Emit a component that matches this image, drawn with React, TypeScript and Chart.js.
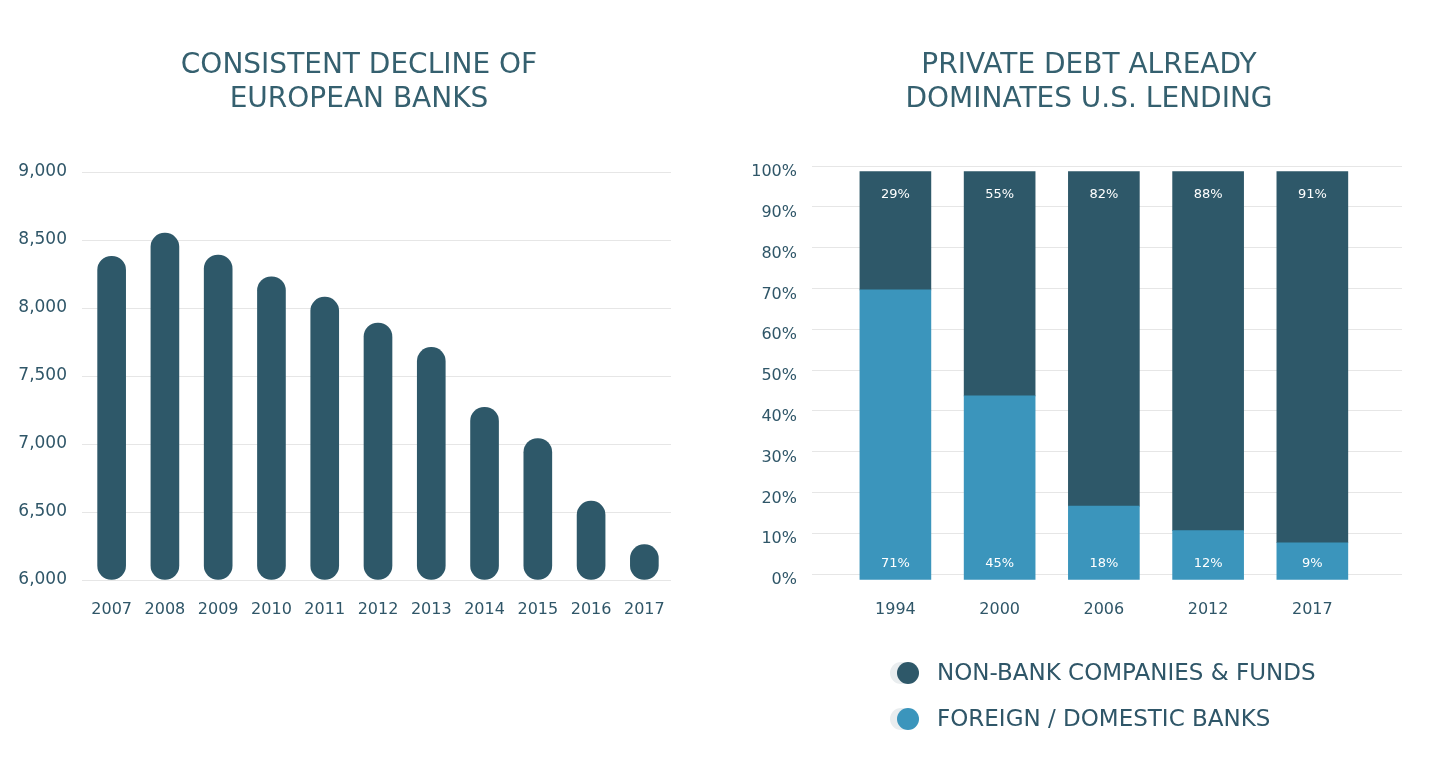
import React, { useEffect, useRef } from 'react';
import { Chart, registerables } from 'chart.js';

Chart.register(...registerables);

// ---------- data ----------
const bankYears = ['2007', '2008', '2009', '2010', '2011', '2012', '2013', '2014', '2015', '2016', '2017'];
const bankCounts = [8380, 8550, 8390, 8230, 8080, 7890, 7710, 7270, 7040, 6580, 6260];

const lendingYears = ['1994', '2000', '2006', '2012', '2017'];
const bankShare = [71, 45, 18, 12, 9];
const nonBankShare = [29, 55, 82, 88, 91];
const seriesNames = ['FOREIGN / DOMESTIC BANKS', 'NON-BANK COMPANIES & FUNDS'];

const leftTitle = ['CONSISTENT DECLINE OF', 'EUROPEAN BANKS'];
const rightTitle = ['PRIVATE DEBT ALREADY', 'DOMINATES U.S. LENDING'];

// ---------- style ----------
const FONT = "'DejaVu Sans', sans-serif";
const TEXT = '#2f5668';
const TITLE = '#35606f';
const DARK = '#2e5869';
const LIGHT = '#3b95bc';
const GRID = '#e6e6e6';
const GHOST = '#e9edef';

const valueLabelPlugin = {
  id: 'valueLabels',
  afterDatasetsDraw(chart: any) {
    const ctx = chart.ctx;
    ctx.save();
    ctx.font = `13px ${FONT}`;
    ctx.fillStyle = '#ffffff';
    ctx.textAlign = 'center';
    ctx.textBaseline = 'middle';
    chart.data.datasets.forEach((ds: any, di: number) => {
      const meta = chart.getDatasetMeta(di);
      meta.data.forEach((el: any, i: number) => {
        const v = ds.data[i].y;
        const top = Math.min(el.y, el.base);
        const bottom = Math.max(el.y, el.base);
        const y = di === 0 ? bottom - 16 : top + 23;
        ctx.fillText(`${v}%`, el.x, y);
      });
    });
    ctx.restore();
  },
};

const legendPlugin = {
  id: 'stackLegend',
  afterDraw(chart: any) {
    const ctx = chart.ctx;
    const order = [1, 0];
    ctx.save();
    order.forEach((di, row) => {
      const ds = chart.data.datasets[di];
      const cx = 164;
      const cy = 673 + row * 46;
      ctx.beginPath();
      ctx.fillStyle = GHOST;
      ctx.arc(cx - 7, cy, 11, 0, Math.PI * 2);
      ctx.fill();
      ctx.beginPath();
      ctx.fillStyle = ds.backgroundColor;
      ctx.arc(cx, cy, 11, 0, Math.PI * 2);
      ctx.fill();
      ctx.font = `23px ${FONT}`;
      ctx.fillStyle = TEXT;
      ctx.textAlign = 'left';
      ctx.textBaseline = 'middle';
      ctx.fillText(ds.label, 193, cy + 1);
    });
    ctx.restore();
  },
};

function LeftChart() {
  const ref = useRef<HTMLCanvasElement | null>(null);
  useEffect(() => {
    if (!ref.current) return;
    const chart = new Chart(ref.current, {
      type: 'bar',
      data: {
        labels: bankYears,
        datasets: [
          {
            data: bankCounts,
            backgroundColor: DARK,
            base: 6000,
            barThickness: 28,
            borderRadius: 100,
            borderSkipped: false,
          } as any,
        ],
      },
      options: {
        animation: false,
        responsive: false,
        maintainAspectRatio: false,
        layout: { padding: 0 },
        plugins: {
          legend: { display: false },
          tooltip: { enabled: false },
          title: {
            display: true,
            text: leftTitle,
            color: TITLE,
            font: { family: FONT, size: 28, weight: 'normal', lineHeight: 34 / 28 },
            padding: { top: 49, bottom: 55 },
          },
        },
        scales: {
          x: {
            grid: { display: false, drawTicks: false },
            border: { display: false },
            ticks: { color: TEXT, font: { family: FONT, size: 16 }, padding: 20, maxRotation: 0, autoSkip: false },
            afterFit: (s: any) => { s.height = 60; },
          },
          y: {
            min: 6000,
            max: 9000,
            ticks: {
              stepSize: 500,
              color: TEXT,
              font: { family: FONT, size: 17 },
              padding: 15,
              callback: (v: any) => Number(v).toLocaleString('en-US'),
            },
            grid: { color: GRID, drawTicks: true, tickLength: 3, tickColor: GRID },
            border: { display: false },
            afterFit: (s: any) => { s.width = 85; },
          },
          yR: {
            type: 'linear',
            position: 'right',
            display: true,
            ticks: { display: false },
            grid: { display: false, drawTicks: false },
            border: { display: false },
            afterFit: (s: any) => { s.width = 47; },
          },
        },
      } as any,
    });
    return () => chart.destroy();
  }, []);
  return (
    <canvas
      ref={ref}
      width={718}
      height={640}
      style={{ position: 'absolute', left: 0, top: 0, width: 718, height: 640 }}
    />
  );
}

function RightChart() {
  const ref = useRef<HTMLCanvasElement | null>(null);
  useEffect(() => {
    if (!ref.current) return;
    const chart = new Chart(ref.current, {
      type: 'bar',
      data: {
        datasets: [
          {
            label: seriesNames[0],
            data: lendingYears.map((_, i) => ({ x: i, y: bankShare[i] })),
            backgroundColor: LIGHT,
            yAxisID: 'yb',
            barThickness: 71,
            clip: false,
          },
          {
            label: seriesNames[1],
            data: lendingYears.map((_, i) => ({ x: i, y: nonBankShare[i] })),
            backgroundColor: DARK,
            yAxisID: 'yb',
            barThickness: 71,
            clip: false,
          },
        ],
      },
      options: {
        animation: false,
        responsive: false,
        maintainAspectRatio: false,
        layout: { padding: { left: 0, right: 0, top: 0, bottom: 156 } },
        plugins: {
          legend: { display: false },
          tooltip: { enabled: false },
          title: {
            display: true,
            text: rightTitle,
            color: TITLE,
            font: { family: FONT, size: 28, weight: 'normal', lineHeight: 34 / 28 },
            padding: { top: 49, bottom: 49 },
          },
        },
        scales: {
          x: {
            type: 'linear',
            offset: false,
            min: -0.8,
            max: 4.86,
            stacked: true,
            grid: { display: false, drawTicks: false },
            border: { display: false },
            ticks: {
              stepSize: 1,
              autoSkip: false,
              maxRotation: 0,
              color: TEXT,
              font: { family: FONT, size: 16 },
              padding: 26,
              callback: (v: any) => (Number.isInteger(v) && lendingYears[v] ? lendingYears[v] : ''),
            },
            afterFit: (s: any) => { s.height = 50; },
          },
          y: {
            position: 'left',
            min: 0,
            max: 100,
            ticks: {
              stepSize: 10,
              color: TEXT,
              font: { family: FONT, size: 16 },
              padding: 15,
              labelOffset: 6,
              callback: (v: any) => `${v}%`,
            },
            grid: { color: GRID, drawTicks: false },
            border: { display: false },
            afterFit: (s: any) => { s.width = 68; },
          },
          yb: {
            type: 'linear',
            position: 'right',
            stacked: true,
            min: 1.35,
            max: 101.35,
            display: true,
            ticks: { display: false },
            grid: { display: false, drawTicks: false },
            border: { display: false },
            afterFit: (s: any) => { s.width = 32; },
          },
        },
      } as any,
      plugins: [valueLabelPlugin, legendPlugin],
    });
    return () => chart.destroy();
  }, []);
  return (
    <canvas
      ref={ref}
      width={690}
      height={780}
      style={{ position: 'absolute', left: 744, top: 0, width: 690, height: 780 }}
    />
  );
}

export default function App() {
  return (
    <div style={{ position: 'absolute', left: 0, top: 0, width: 1434, height: 780, background: '#ffffff', overflow: 'hidden' }}>
      <LeftChart />
      <RightChart />
    </div>
  );
}
